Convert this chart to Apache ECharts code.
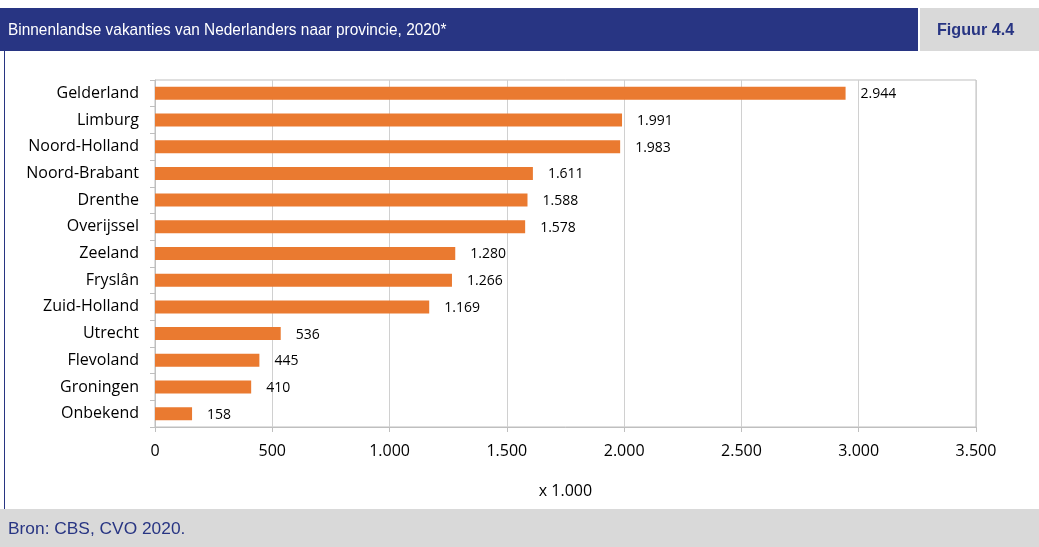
<!DOCTYPE html>
<html><head><meta charset="utf-8">
<script src="https://cdn.jsdelivr.net/npm/echarts@6/dist/echarts.min.js"></script>
<style>html,body{margin:0;padding:0;background:#fff}#c{width:1039px;height:547px}</style>
</head><body><div id="c"></div>
<script>
const categories = ["Gelderland","Limburg","Noord-Holland","Noord-Brabant","Drenthe","Overijssel","Zeeland","Fryslân","Zuid-Holland","Utrecht","Flevoland","Groningen","Onbekend"];
const values = [2944,1991,1983,1611,1588,1578,1280,1266,1169,536,445,410,158];
const titleText = "Binnenlandse vakanties van Nederlanders naar provincie, 2020*";
const figText = "Figuur 4.4";
const sourceText = "Bron: CBS, CVO 2020.";
const axisTitle = "x 1.000";

function nl(v){ return String(v).replace(/\B(?=(\d{3})+(?!\d))/g, "."); }
const chart = echarts.init(document.getElementById('c'), null, {renderer:'canvas'});
const blue = '#283583';
const F = '"Open Sans", sans-serif';
const H = '"Liberation Sans", Arial, sans-serif';
chart.setOption({
  animation:false,
  grid:{left:155,right:63,top:80,bottom:120,show:true,borderColor:'#bfbfbf',borderWidth:1,containLabel:false},
  xAxis:{type:'value',min:0,max:3500,interval:500,
    axisLine:{show:true,lineStyle:{color:'#bfbfbf'}},
    axisTick:{show:true,length:5,lineStyle:{color:'#bfbfbf'}},
    splitLine:{show:true,lineStyle:{color:'#d0d0d0'}},
    axisLabel:{formatter:nl,color:'#000',fontFamily:F,fontSize:16,margin:16},
    name:axisTitle,nameLocation:'middle',nameGap:56,nameTextStyle:{color:'#000',fontFamily:F,fontSize:16}
  },
  yAxis:{type:'category',data:categories,inverse:true,
    axisLine:{show:true,lineStyle:{color:'#bfbfbf'}},
    axisTick:{show:true,length:5,lineStyle:{color:'#bfbfbf'}},
    axisLabel:{color:'#000',fontFamily:F,fontSize:16,margin:16}
  },
  series:[{type:'bar',data:values,barWidth:13,itemStyle:{color:'#EA7A30'},
    label:{show:true,position:'right',distance:15,offset:[0,1],formatter:p=>nl(p.value),color:'#000',fontFamily:F,fontSize:14}}],
  graphic:[
    {type:'rect',shape:{x:0,y:8,width:918,height:43},style:{fill:blue}},
    {type:'rect',shape:{x:920,y:8,width:119,height:43},style:{fill:'#d9d9d9'}},
    {type:'text',x:8,y:30,scaleX:0.906,style:{text:titleText,fill:'#fff',font:'17px '+H,verticalAlign:'middle'}},
    {type:'text',x:937,y:30,scaleX:0.95,style:{text:figText,fill:blue,font:'bold 17px '+H,verticalAlign:'middle'}},
    {type:'rect',shape:{x:4,y:51,width:1,height:458},style:{fill:blue}},
    {type:'rect',shape:{x:0,y:509,width:1039,height:38},style:{fill:'#d9d9d9'}},
    {type:'text',x:8,y:529,scaleX:1.02,style:{text:sourceText,fill:blue,font:'17px '+H,verticalAlign:'middle'}}
  ]
});
</script></body></html>
